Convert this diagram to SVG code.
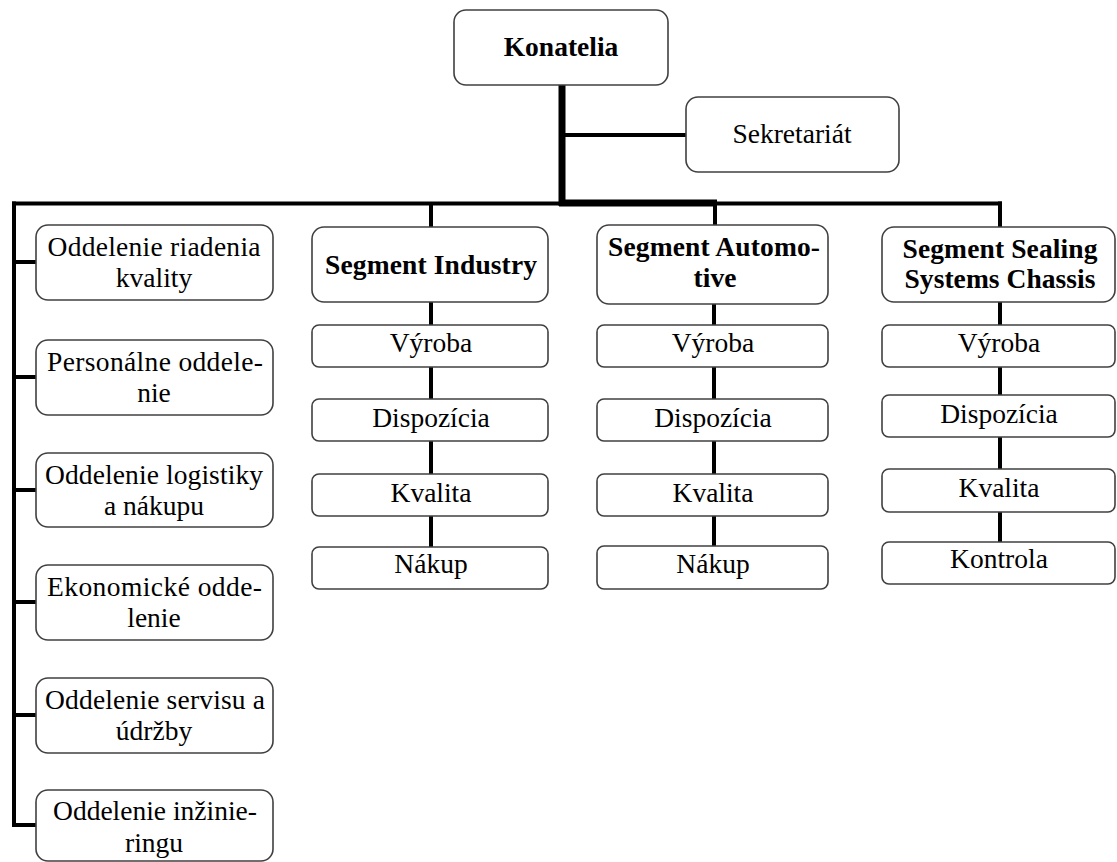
<svg xmlns="http://www.w3.org/2000/svg" width="1117" height="862" viewBox="0 0 1117 862">
<style>
  .box { fill: #ffffff; stroke: #404040; stroke-width: 1.6; }
  .t { font-family: "Liberation Serif", "Times New Roman", serif; font-size: 27.5px; fill: #000; text-anchor: middle; }
  .b { font-weight: bold; }
  .c { stroke: #000; stroke-width: 4; fill: none; }
  .ct { stroke: #000; stroke-width: 7; fill: none; }
</style>
<rect width="1117" height="862" fill="#ffffff"/>
<g id="connectors">
  <line class="c" x1="12" y1="203.5" x2="1002" y2="203.5"/>
  <line class="c" x1="14" y1="201.5" x2="14" y2="827"/>
  <line class="c" x1="12" y1="262" x2="37" y2="262"/>
  <line class="c" x1="12" y1="377" x2="37" y2="377"/>
  <line class="c" x1="12" y1="490" x2="37" y2="490"/>
  <line class="c" x1="12" y1="602" x2="37" y2="602"/>
  <line class="c" x1="12" y1="715" x2="37" y2="715"/>
  <line class="c" x1="12" y1="825" x2="37" y2="825"/>
  <line class="ct" x1="562" y1="85" x2="562" y2="206"/>
  <line class="ct" x1="559" y1="203" x2="717" y2="203"/>
  <line class="c" x1="562" y1="135" x2="687" y2="135"/>
  <line class="c" x1="431" y1="203" x2="431" y2="227"/>
  <line class="c" x1="715" y1="203" x2="715" y2="225"/>
  <line class="c" x1="1000" y1="201.5" x2="1000" y2="227"/>
  <line class="c" x1="431" y1="302" x2="431" y2="547"/>
  <line class="c" x1="714" y1="304" x2="714" y2="546"/>
  <line class="c" x1="1000" y1="302" x2="1000" y2="542"/>
</g>
<g id="konatelia">
  <rect class="box" x="454" y="10" width="214" height="75" rx="12"/>
  <text class="t b" x="561" y="56">Konatelia</text>
</g>
<g id="sekretariat">
  <rect class="box" x="686" y="97" width="213" height="75" rx="12"/>
  <text class="t" x="792" y="143">Sekretariát</text>
</g>
<g id="oddelenie-kvality">
  <rect class="box" x="36" y="225" width="237" height="75" rx="12"/>
  <text class="t" x="154" y="256" textLength="213" lengthAdjust="spacing">Oddelenie riadenia</text>
  <text class="t" x="154" y="287">kvality</text>
</g>
<g id="personalne">
  <rect class="box" x="36" y="340" width="237" height="75" rx="12"/>
  <text class="t" x="155" y="371" textLength="216" lengthAdjust="spacing">Personálne oddele-</text>
  <text class="t" x="154" y="402">nie</text>
</g>
<g id="logistika">
  <rect class="box" x="36" y="453" width="237" height="74" rx="12"/>
  <text class="t" x="154" y="484" textLength="218" lengthAdjust="spacing">Oddelenie logistiky</text>
  <text class="t" x="154" y="515">a nákupu</text>
</g>
<g id="ekonomicke">
  <rect class="box" x="36" y="565" width="237" height="75" rx="12"/>
  <text class="t" x="154.5" y="596" textLength="215" lengthAdjust="spacing">Ekonomické odde-</text>
  <text class="t" x="154" y="627">lenie</text>
</g>
<g id="servis">
  <rect class="box" x="36" y="678" width="237" height="75" rx="12"/>
  <text class="t" x="155" y="709" textLength="220" lengthAdjust="spacing">Oddelenie servisu a</text>
  <text class="t" x="154" y="740">údržby</text>
</g>
<g id="inziniering">
  <rect class="box" x="36" y="790" width="237" height="71" rx="12"/>
  <text class="t" x="155" y="820" textLength="204" lengthAdjust="spacing">Oddelenie inžinie-</text>
  <text class="t" x="154" y="852">ringu</text>
</g>
<g id="segment-industry">
  <rect class="box" x="312" y="227" width="236" height="75" rx="12"/>
  <text class="t b" x="431" y="274" textLength="212" lengthAdjust="spacing">Segment Industry</text>
</g>
<g id="industry-vyroba">
  <rect class="box" x="312" y="325" width="236" height="42" rx="7"/>
  <text class="t" x="431" y="352">Výroba</text>
</g>
<g id="industry-dispozicia">
  <rect class="box" x="312" y="399" width="236" height="42" rx="7"/>
  <text class="t" x="431" y="427">Dispozícia</text>
</g>
<g id="industry-kvalita">
  <rect class="box" x="312" y="474" width="236" height="42" rx="7"/>
  <text class="t" x="431" y="502">Kvalita</text>
</g>
<g id="industry-nakup">
  <rect class="box" x="312" y="547" width="236" height="42" rx="7"/>
  <text class="t" x="431" y="573">Nákup</text>
</g>
<g id="segment-automotive">
  <rect class="box" x="597" y="225" width="231" height="79" rx="12"/>
  <text class="t b" x="714" y="256" textLength="212" lengthAdjust="spacing">Segment Automo-</text>
  <text class="t b" x="715" y="287">tive</text>
</g>
<g id="automotive-vyroba">
  <rect class="box" x="597" y="325" width="231" height="42" rx="7"/>
  <text class="t" x="713" y="352">Výroba</text>
</g>
<g id="automotive-dispozicia">
  <rect class="box" x="597" y="399" width="231" height="42" rx="7"/>
  <text class="t" x="713" y="427">Dispozícia</text>
</g>
<g id="automotive-kvalita">
  <rect class="box" x="597" y="474" width="231" height="42" rx="7"/>
  <text class="t" x="713" y="502">Kvalita</text>
</g>
<g id="automotive-nakup">
  <rect class="box" x="597" y="546" width="231" height="43" rx="7"/>
  <text class="t" x="713" y="573">Nákup</text>
</g>
<g id="segment-sealing">
  <rect class="box" x="882" y="227" width="233" height="75" rx="12"/>
  <text class="t b" x="1000" y="258" textLength="195" lengthAdjust="spacing">Segment Sealing</text>
  <text class="t b" x="1000" y="288" textLength="191" lengthAdjust="spacing">Systems Chassis</text>
</g>
<g id="sealing-vyroba">
  <rect class="box" x="882" y="325" width="233" height="42" rx="7"/>
  <text class="t" x="999" y="352">Výroba</text>
</g>
<g id="sealing-dispozicia">
  <rect class="box" x="882" y="395" width="233" height="42" rx="7"/>
  <text class="t" x="999" y="423">Dispozícia</text>
</g>
<g id="sealing-kvalita">
  <rect class="box" x="882" y="469" width="233" height="43" rx="7"/>
  <text class="t" x="999" y="497">Kvalita</text>
</g>
<g id="sealing-kontrola">
  <rect class="box" x="882" y="542" width="233" height="42" rx="7"/>
  <text class="t" x="999" y="568">Kontrola</text>
</g>
</svg>
